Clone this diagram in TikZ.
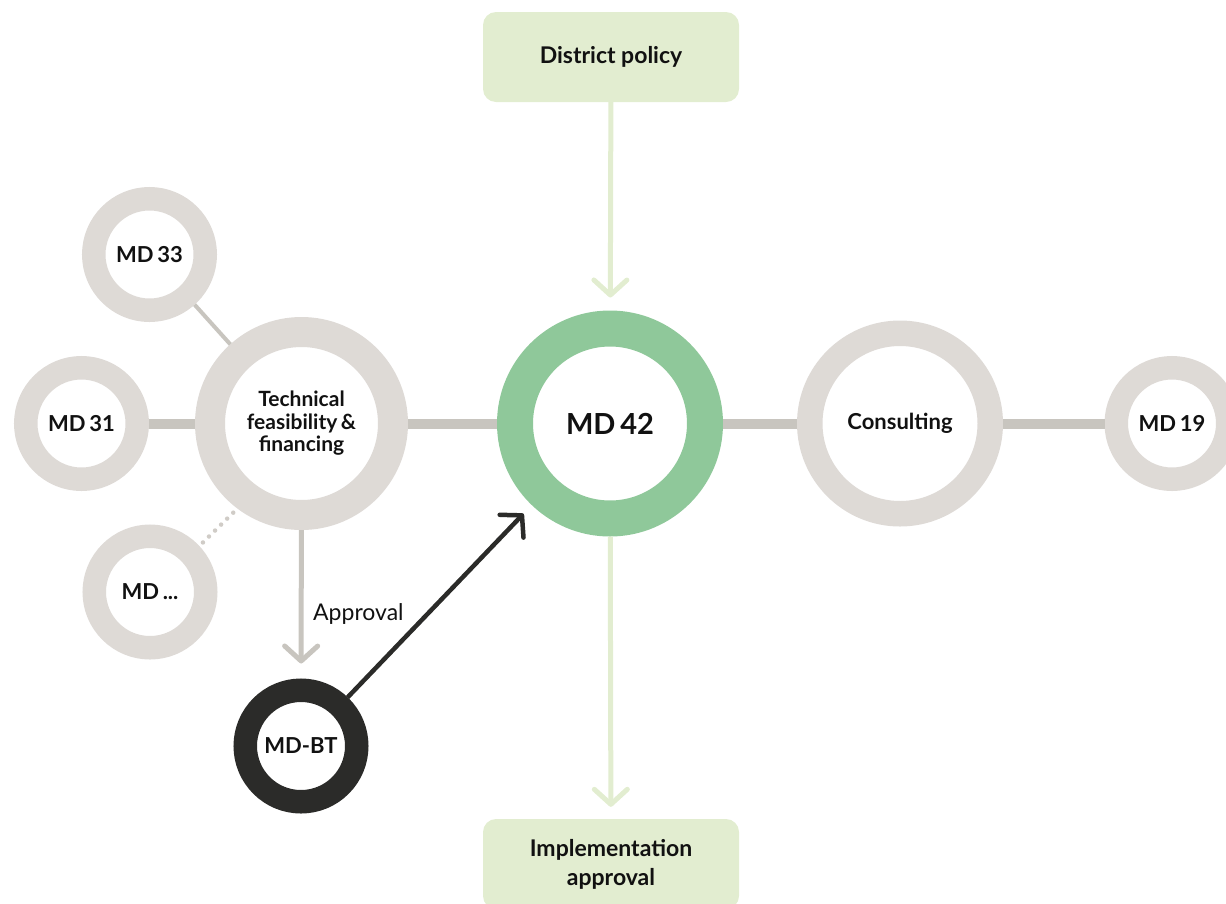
\documentclass[tikz,border=0pt]{standalone}
\usepackage{fontspec}
\setmainfont{Lato}
\usetikzlibrary{arrows.meta}
\definecolor{ringgray}{RGB}{222,218,214}
\definecolor{linkgray}{RGB}{200,197,191}
\definecolor{dotgray}{RGB}{208,204,199}
\definecolor{ringgreen}{RGB}{143,200,154}
\definecolor{palegreen}{RGB}{226,237,208}
\definecolor{ringblack}{RGB}{43,43,41}
\definecolor{txt}{RGB}{17,17,17}
\tikzset{
  ring/.style={circle, draw, fill=white, inner sep=0pt, text=txt, font=\bfseries\fontsize{22}{24}\selectfont},
  smallring/.style={ring, draw=ringgray, line width=23.5pt, minimum size=111.5pt},
  policybox/.style={rectangle, rounded corners=13pt, fill=palegreen, minimum width=256pt, minimum height=90pt, text=txt, font=\bfseries\fontsize{23}{29}\selectfont, align=center},
  link/.style={draw=linkgray, line width=10pt},
  thinlink/.style={draw=linkgray, line width=4pt},
  dotlink/.style={draw=dotgray, line width=4.5pt, line cap=round, dash pattern=on 0pt off 8.5pt},
  barb/.style={-{Straight Barb[length=15pt,width=33pt,round]}},
  greenarrow/.style={barb, draw=palegreen, line width=5pt},
  grayarrow/.style={barb, draw=linkgray, line width=5pt},
  blackarrow/.style={barb, draw=ringblack, line width=4.5pt},
  approvaltext/.style={text=txt, font=\fontsize{23}{25}\selectfont, anchor=west, inner sep=0pt}
}
\begin{document}
\begin{tikzpicture}[x=1pt,y=-1pt]
\clip (0,0) rectangle (1226,903);
\node[policybox] (dp) at (611,57) {District policy};
\node[policybox] (ia) at (611,864) {Implementation\\approval};
\node[ring, draw=ringgreen, line width=36pt, minimum size=190pt, font=\bfseries\fontsize{29}{31}\selectfont] (md42) at (610,423.5) {MD\,42};
\node[ring, draw=ringgray, line width=30pt, minimum size=183pt, align=center, font=\bfseries\fontsize{21}{22.5}\selectfont] (tech) at (301.5,423.5) {Technical\\feasibility\,\&\\financing};
\node[ring, draw=ringgray, line width=25.5pt, minimum size=180.5pt] (cons) at (900,423.5) {Consulting};
\node[smallring] (md19) at (1172,423.5) {MD\,19};
\node[smallring] (md31) at (81.5,423.5) {MD\,31};
\node[smallring] (md33) at (149.5,254.5) {MD\,33};
\node[smallring] (mddots) at (150,592) {MD\,...};
\node[smallring, draw=ringblack] (mdbt) at (301,746) {MD-BT};
\draw[link] (md31) -- (tech);
\draw[link] (tech) -- (md42);
\draw[link] (md42) -- (cons);
\draw[link] (cons) -- (md19);
\draw[thinlink] (md33) -- (tech);
\draw[dotlink, shorten <=5pt, shorten >=5pt] (mddots.43) -- (tech.233);
\draw[greenarrow, shorten >=13pt] (dp) -- (md42);
\draw[greenarrow, shorten >=12pt] (md42) -- (ia);
\draw[grayarrow, shorten >=15pt] (tech) -- (mdbt);
\draw[blackarrow, shorten >=12pt] (mdbt) -- (md42);
\node[approvaltext] (apl) at (313,614) {Approval};
\end{tikzpicture}
\end{document}
